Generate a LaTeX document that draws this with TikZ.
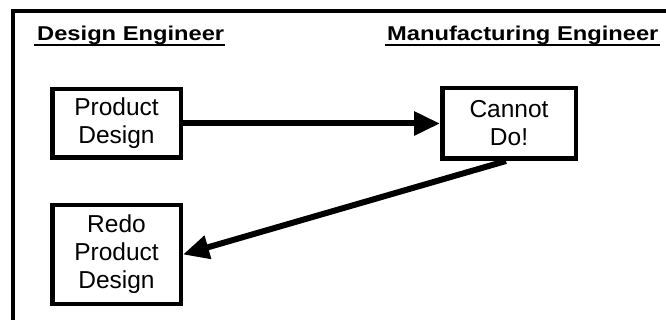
\documentclass[tikz,border=0pt]{standalone}
\usepackage{fontspec}
\usepackage{graphicx}
\setmainfont{Liberation Sans}
\usetikzlibrary{arrows.meta}

\tikzset{
  frame/.style={line width=3.5pt, line cap=rect},
  heading/.style={anchor=base west, inner sep=0pt,
    font=\fontsize{20}{22}\selectfont\bfseries},
  headline/.style={line width=2.4pt},
  stepbox/.style={draw, line width=4.5pt, align=center, inner sep=0pt,
    font=\fontsize{24.5}{28}\selectfont},
  flow/.style={line width=6pt,
    -{Triangle[length=26pt, width=23pt]}}
}

\begin{document}
\begin{tikzpicture}[x=1pt, y=-1pt]
  \useasboundingbox (0,0) rectangle (666,320);
  \fill[white] (0,0) rectangle (666,320);

  % partial outer frame (top and left edges)
  \draw[frame] (13,322) -- (13,11) -- (668,11);

  % column headings
  \node[heading] (hde) at (37,41) {\scalebox{1.185}[1]{Design Engineer}};
  \node[heading] (hme) at (387,41) {\scalebox{1.185}[1]{Manufacturing Engineer}};
  \draw[headline] ([xshift=-3pt, yshift=-4pt]hde.base west) -- ([xshift=1pt, yshift=-4pt]hde.base east);
  \draw[headline] ([xshift=-2pt, yshift=-4pt]hme.base west) -- ([xshift=1pt, yshift=-4pt]hme.base east);

  % process steps
  \node[stepbox, minimum width=128.5pt, minimum height=68.5pt] (pd) at (116.5,123.5) {Product\\Design};
  \node[stepbox, minimum width=133.5pt, minimum height=70.5pt] (cd) at (509,123.5) {Cannot\\Do!};
  \node[stepbox, minimum width=128.5pt, minimum height=98.5pt] (rd) at (116.5,254.5) {Redo\\Product\\Design};

  % flow between steps
  \draw[flow] (pd.east) -- (cd.west);
  \draw[flow] ([xshift=-3pt]cd.south) -- (rd.east);
\end{tikzpicture}
\end{document}
